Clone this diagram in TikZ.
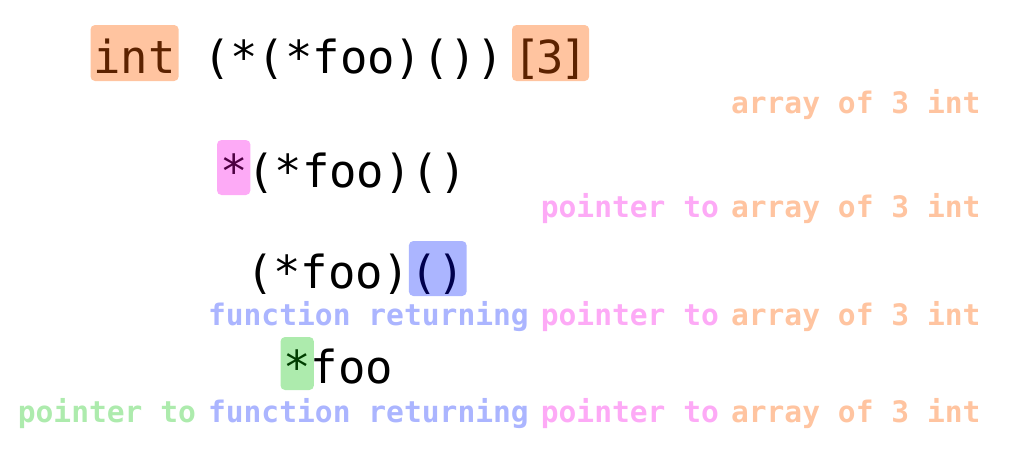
\documentclass[tikz,border=0pt]{standalone}
\usepackage{fontspec}
\newfontfamily\codefont{DejaVu Sans Mono}
\usetikzlibrary{backgrounds,calc}
\definecolor{orbg}{HTML}{FFC4A0}
\definecolor{ordk}{HTML}{5C2200}
\definecolor{pkbg}{HTML}{FDAAF6}
\definecolor{pkdk}{HTML}{4D0042}
\definecolor{blbg}{HTML}{ABB5FF}
\definecolor{bldk}{HTML}{00004D}
\definecolor{grbg}{HTML}{ADEBAD}
\definecolor{grdk}{HTML}{003D00}
\begin{document}
\begin{tikzpicture}[x=1pt,y=1pt,
  code/.style={inner sep=0pt, outer sep=0pt, anchor=base west,
    font=\codefont\fontsize{45.5}{50}\selectfont},
  lbl/.style={inner sep=0pt, outer sep=0pt, anchor=base east,
    font=\codefont\bfseries\fontsize{29.6}{32}\selectfont},
  hl/.style={rounded corners=4.5pt}]
\useasboundingbox (0,0) rectangle (1024,-467);

% line 1
\node[code, text=ordk] (intw) at (93.5,-73) {int};
\node[code] (l1mid) at ($(intw.base east)+(27.39,0)$) {(*(*foo)())};
\node[code, text=ordk] (arr) at (513.5,-73) {[\kern-4pt3\kern-4pt]};
\node[lbl, text=orbg] (a1) at (980.5,-113) {array of 3 int};

% line 2
\node[code, text=pkdk] (st2) at (220,-187) {*};
\node[code] (l2rest) at (st2.base east) {(*foo)()};
\node[lbl, text=orbg] (a2) at (980.5,-217) {array of 3 int};
\node[lbl, text=pkbg] (p2) at ($(a2.base west)+(-12,0)$) {pointer to};

% line 3
\node[code] (l3a) at (246,-288) {(*foo)};
\node[code, text=bldk] (l3b) at (l3a.base east) {()};
\node[lbl, text=orbg] (a3) at (980.5,-325) {array of 3 int};
\node[lbl, text=pkbg] (p3) at ($(a3.base west)+(-12,0)$) {pointer to};
\node[lbl, text=blbg] (f3) at ($(p3.base west)+(-12,0)$) {function returning};

% line 4
\node[code, text=grdk] (st4) at (283.5,-383) {*};
\node[code] (l4b) at (st4.base east) {foo};
\node[lbl, text=orbg] (a4) at (980.5,-422) {array of 3 int};
\node[lbl, text=pkbg] (p4) at ($(a4.base west)+(-12,0)$) {pointer to};
\node[lbl, text=blbg] (f4) at ($(p4.base west)+(-12,0)$) {function returning};
\node[lbl, text=grbg] (g4) at ($(f4.base west)+(-12,0)$) {pointer to};

\begin{scope}[on background layer]
  \fill[orbg, hl] ($(intw.base west)+(-3,-8)$) rectangle ($(intw.base east)+(3,48)$);
  \fill[orbg, hl] ($(arr.base west)+(-1.5,-8)$) rectangle ($(arr.base east)+(1.5,48)$);
  \fill[pkbg, hl] ($(st2.base west)+(-3,-8)$) rectangle ($(st2.base east)+(3,47)$);
  \fill[blbg, hl] ($(l3b.base west)+(-1.5,-8)$) rectangle ($(l3b.base east)+(1.5,47)$);
  \fill[grbg, hl] ($(st4.base west)+(-3,-7)$) rectangle ($(st4.base east)+(3,46)$);
\end{scope}
\end{tikzpicture}
\end{document}
